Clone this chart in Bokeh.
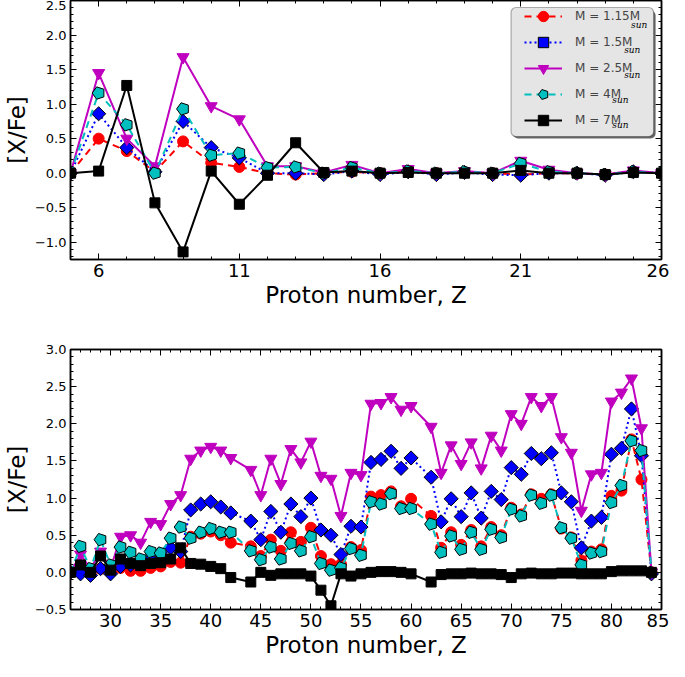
import numpy as np
from bokeh.plotting import figure
from bokeh.layouts import column
from bokeh.models import (ColumnDataSource, FixedTicker, LinearAxis, Legend, LegendItem,
                          BoxAnnotation, Label, CustomJSTickFormatter)
from bokeh.embed import file_html
from bokeh.resources import INLINE

try:
    from bokeh.models import Ngon
    HAS_NGON = True
except Exception:
    HAS_NGON = False

# ---------------- data ----------------
z_light = list(range(5, 27))
light_115 = [0.0, 0.50, 0.32, 0.02, 0.46, 0.15, 0.09, 0.0, -0.02, 0.0, 0.02, 0.0,
             0.02, 0.0, 0.01, 0.0, -0.02, 0.0, 0.0, -0.02, 0.02, 0.0]
light_15 = [0.0, 0.86, 0.37, 0.02, 0.75, 0.37, 0.22, 0.0, 0.0, -0.02, 0.03, -0.02,
            0.02, -0.02, 0.01, -0.02, -0.03, 0.0, 0.0, -0.03, 0.02, 0.0]
light_25 = [0.0, 1.45, 0.50, 0.10, 1.68, 0.97, 0.78, 0.10, 0.10, 0.01, 0.12, 0.0,
            0.06, 0.0, 0.03, 0.0, 0.18, 0.05, 0.0, -0.02, 0.04, 0.0]
light_4 = [0.0, 1.16, 0.70, 0.0, 0.93, 0.26, 0.29, 0.08, 0.09, 0.0, 0.08, 0.0,
           0.03, 0.0, 0.02, 0.0, 0.14, 0.02, 0.0, -0.02, 0.02, 0.0]
light_7 = [0.0, 0.03, 1.27, -0.43, -1.14, 0.03, -0.45, -0.03, 0.44, 0.01, 0.03, 0.0,
           0.01, 0.0, 0.0, 0.0, 0.04, 0.0, 0.0, -0.02, 0.01, 0.0]

z_heavy = [26, 27, 28, 29, 30, 31, 32, 33, 34, 35, 36, 37, 38, 39, 40, 41, 42,
           44, 45, 46, 47, 48, 49, 50, 51, 52, 53, 54, 55, 56, 57, 58, 59, 60,
           62, 63, 64, 65, 66, 67, 68, 69, 70, 71, 72, 73, 74, 75, 76, 77, 78, 79,
           80, 81, 82, 83, 84]
heavy_115 = [0.0, 0.0, -0.02, 0.05, 0.0, 0.06, 0.02, 0.02, 0.06, 0.08, 0.14, 0.13,
             0.48, 0.52, 0.55, 0.50, 0.40,
             0.35, 0.22, 0.44, 0.29, 0.54, 0.41, 0.60, 0.22, 0.11, 0.11, 0.34, 0.30,
             1.02, 1.04, 1.09, 0.89, 0.99,
             0.76, 0.33, 0.54, 0.37, 0.57, 0.35, 0.61, 0.50, 0.87, 0.78, 1.05, 0.99,
             1.05, 0.59, 0.47, 0.16, 0.28, 0.31, 1.03, 1.10, 1.79, 1.25, 0.0]
heavy_15 = [0.0, -0.02, -0.04, 0.05, -0.02, 0.08, 0.10, 0.12, 0.18, 0.18, 0.33, 0.28,
            0.84, 0.92, 0.95, 0.88, 0.80,
            0.69, 0.44, 0.82, 0.54, 0.92, 0.75, 1.00, 0.57, 0.50, 0.24, 0.62, 0.61,
            1.48, 1.52, 1.63, 1.40, 1.54,
            1.28, 0.68, 0.99, 0.75, 1.07, 0.73, 1.09, 0.98, 1.41, 1.32, 1.60, 1.53,
            1.61, 1.07, 0.95, 0.33, 0.69, 0.74, 1.59, 1.67, 2.20, 1.57, -0.02]
heavy_25 = [0.0, 0.24, 0.05, 0.28, 0.05, 0.48, 0.50, 0.40, 0.68, 0.65, 0.92, 1.04,
            1.53, 1.64, 1.69, 1.64, 1.54,
            1.38, 1.04, 1.53, 1.19, 1.66, 1.48, 1.76, 1.30, 1.26, 0.76, 1.34, 1.31,
            2.27, 2.28, 2.36, 2.19, 2.24,
            1.96, 1.34, 1.71, 1.46, 1.75, 1.40, 1.84, 1.64, 2.13, 2.00, 2.36, 2.24,
            2.36, 1.82, 1.61, 0.83, 1.32, 1.34, 2.30, 2.42, 2.61, 1.94, 0.0]
heavy_4 = [0.0, 0.35, 0.05, 0.44, 0.10, 0.34, 0.27, 0.18, 0.28, 0.26, 0.46, 0.61,
           0.46, 0.54, 0.59, 0.54, 0.54,
           0.29, 0.17, 0.34, 0.18, 0.39, 0.29, 0.48, 0.12, 0.03, 0.06, 0.32, 0.23,
           0.95, 0.92, 1.06, 0.86, 0.86,
           0.65, 0.27, 0.49, 0.31, 0.54, 0.31, 0.58, 0.47, 0.85, 0.76, 1.04, 0.93,
           1.04, 0.60, 0.46, 0.10, 0.26, 0.28, 0.94, 1.17, 1.77, 1.64, 0.0]
heavy_7 = [0.0, 0.10, 0.0, 0.22, 0.03, 0.18, 0.12, 0.09, 0.12, 0.13, 0.18, 0.33,
           0.12, 0.11, 0.08, 0.05, -0.07,
           -0.13, 0.0, -0.04, -0.02, -0.02, -0.02, -0.05, -0.24, -0.45, -0.02, -0.05, -0.02,
           0.0, 0.01, 0.01, 0.0, -0.02,
           -0.13, -0.03, -0.02, -0.02, -0.01, -0.02, -0.02, -0.03, -0.07, -0.02, -0.01, -0.02,
           -0.02, -0.01, -0.01, -0.02, -0.02, -0.02, 0.01, 0.02, 0.02, 0.02, 0.0]

mass_labels = ["M = 1.15M", "M = 1.5M", "M = 2.5M", "M = 4M", "M = 7M"]
sub_label = "sun"

top_xticks = [6, 11, 16, 21, 26]
top_yticks = [-1.0, -0.5, 0.0, 0.5, 1.0, 1.5, 2.0, 2.5]
bot_xticks = [30, 35, 40, 45, 50, 55, 60, 65, 70, 75, 80, 85]
bot_yticks = [-0.5, 0.0, 0.5, 1.0, 1.5, 2.0, 2.5, 3.0]

# ---------------- styles ----------------
FONT = "DejaVu Sans"
STYLES = [
    dict(color="#ff0000", dash="7 5", marker="circle", size=11, edge="#ff0000", angle=0.0),
    dict(color="#0000ff", dash="2 3", marker="square", size=10, edge="black", angle=np.pi / 4),
    dict(color="#bf00bf", dash="solid", marker="inverted_triangle", size=12, edge="#bf00bf", angle=0.0),
    dict(color="#00bfbf", dash="7 5", marker="ngon5", size=6.5, edge="black", angle=0.0),
    dict(color="black", dash="solid", marker="square", size=10, edge="black", angle=0.0),
]

minus_fmt = CustomJSTickFormatter(code="return tick.toFixed(1).replace('-', '\\u2212');")
int_fmt = CustomJSTickFormatter(code="return tick.toFixed(0);")
blank_fmt = CustomJSTickFormatter(code="return '';")


def style_axes(p, xticks, xminor, yticks, yminor):
    xt = FixedTicker(ticks=xticks, minor_ticks=xminor)
    yt = FixedTicker(ticks=yticks, minor_ticks=yminor)
    for ax in p.xaxis:
        ax.ticker = xt
        ax.formatter = int_fmt
        ax.axis_label = "Proton number, Z"
        ax.major_label_text_font_size = "18px"
        ax.axis_label_text_font_size = "23px"
        ax.major_label_standoff = 4
        ax.axis_label_standoff = 2
    for ax in p.yaxis:
        ax.ticker = yt
        ax.formatter = minus_fmt
        ax.axis_label = "[X/Fe]"
        ax.major_label_text_font_size = "13px"
        ax.axis_label_text_font_size = "23px"
        ax.major_label_standoff = 4
        ax.axis_label_standoff = 2
    p.add_layout(LinearAxis(ticker=xt, formatter=blank_fmt, major_label_text_font_size="1px",
                            major_label_standoff=0), "above")
    p.add_layout(LinearAxis(ticker=yt, formatter=blank_fmt, major_label_text_font_size="1px",
                            major_label_standoff=0), "right")
    for ax in p.axis:
        ax.major_label_text_font = FONT
        ax.axis_label_text_font = FONT
        ax.axis_label_text_font_style = "normal"
        ax.major_label_text_color = "black"
        ax.axis_label_text_color = "black"
        ax.axis_line_color = "black"
        ax.axis_line_width = 1.5
        ax.major_tick_line_color = "black"
        ax.minor_tick_line_color = "black"
        ax.major_tick_in = 6
        ax.major_tick_out = 0
        ax.minor_tick_in = 3
        ax.minor_tick_out = 0
    p.xgrid.visible = False
    p.ygrid.visible = False
    p.outline_line_color = "black"
    p.outline_line_width = 1.5


def add_series(p, z, vals, st):
    src = ColumnDataSource(dict(z=z, v=vals))
    lr = p.line("z", "v", source=src, line_color=st["color"], line_width=2,
                line_dash=st["dash"])
    mk = st["marker"]
    if mk == "ngon5" and HAS_NGON:
        g = Ngon(x="z", y="v", n=5, radius=st["size"], radius_units="screen",
                 angle=np.pi / 2, fill_color=st["color"],
                 line_color=st["edge"], line_width=1)
        mr = p.add_glyph(src, g)
    else:
        m, sz = ("hex", 12) if mk == "ngon5" else (mk, st["size"])
        mr = p.scatter("z", "v", source=src, marker=m, size=sz, angle=st["angle"],
                       fill_color=st["color"], line_color=st["edge"], line_width=1)
    return lr, mr


# ---------------- top panel ----------------
F_LEFT, F_TOP, F_W, F_H = 71, 8, 601, 259
p1 = figure(width=669, height=314, x_range=(5, 26), y_range=(-1.25, 2.5),
            output_backend="svg", toolbar_location=None,
            min_border_left=63, min_border_right=5, min_border_top=0, min_border_bottom=55)
style_axes(p1, top_xticks, list(range(5, 27)), top_yticks,
           [round(v, 1) for v in np.arange(-1.2, 2.55, 0.1)])

items = []
for vals, st, lab in zip([light_115, light_15, light_25, light_4, light_7], STYLES, mass_labels):
    lr, mr = add_series(p1, z_light, vals, st)
    items.append(LegendItem(label=lab, renderers=[lr, mr]))


def xd(px):
    return 5 + (px - F_LEFT) * 21.0 / F_W


def yd(py):
    return 2.5 - (py - F_TOP) * 3.75 / F_H


p1.add_layout(BoxAnnotation(left=xd(521), right=xd(666), top=yd(18), bottom=yd(146),
                            fill_color="#555555", fill_alpha=0.9, line_alpha=0,
                            border_radius=5))
p1.add_layout(BoxAnnotation(left=xd(519), right=xd(664), top=yd(15), bottom=yd(144),
                            fill_color="#e5e5e5", fill_alpha=1, line_color="black",
                            line_width=1.2, border_radius=5))

leg = Legend(items=items, location=(454, 126), margin=0, padding=0, spacing=-1,
             glyph_width=38, glyph_height=26, label_height=26, label_standoff=13,
             label_text_font=FONT, label_text_font_size="12px",
             background_fill_alpha=0, border_line_alpha=0)
p1.add_layout(leg)

SUN_X = [641, 634, 634, 622, 622]
ROW_Y = [28, 53, 78, 103, 128]
for sx, ry in zip(SUN_X, ROW_Y):
    p1.add_layout(Label(x=xd(sx), y=yd(ry + 4), text=sub_label, text_font="DejaVu Serif",
                        text_font_style="italic", text_font_size="9px",
                        text_baseline="middle", text_color="black"))

# ---------------- bottom panel ----------------
p2 = figure(width=669, height=347, x_range=(26, 85), y_range=(-0.5, 3.0),
            output_backend="svg", toolbar_location=None,
            min_border_left=63, min_border_right=8, min_border_top=35, min_border_bottom=52)
style_axes(p2, bot_xticks, list(range(26, 86)), bot_yticks,
           [round(v, 1) for v in np.arange(-0.5, 3.05, 0.1)])
for vals, st in zip([heavy_115, heavy_15, heavy_25, heavy_4, heavy_7], STYLES):
    add_series(p2, z_heavy, vals, st)

layout = column(p1, p2)
open("out.html", "w").write(file_html(layout, INLINE))
